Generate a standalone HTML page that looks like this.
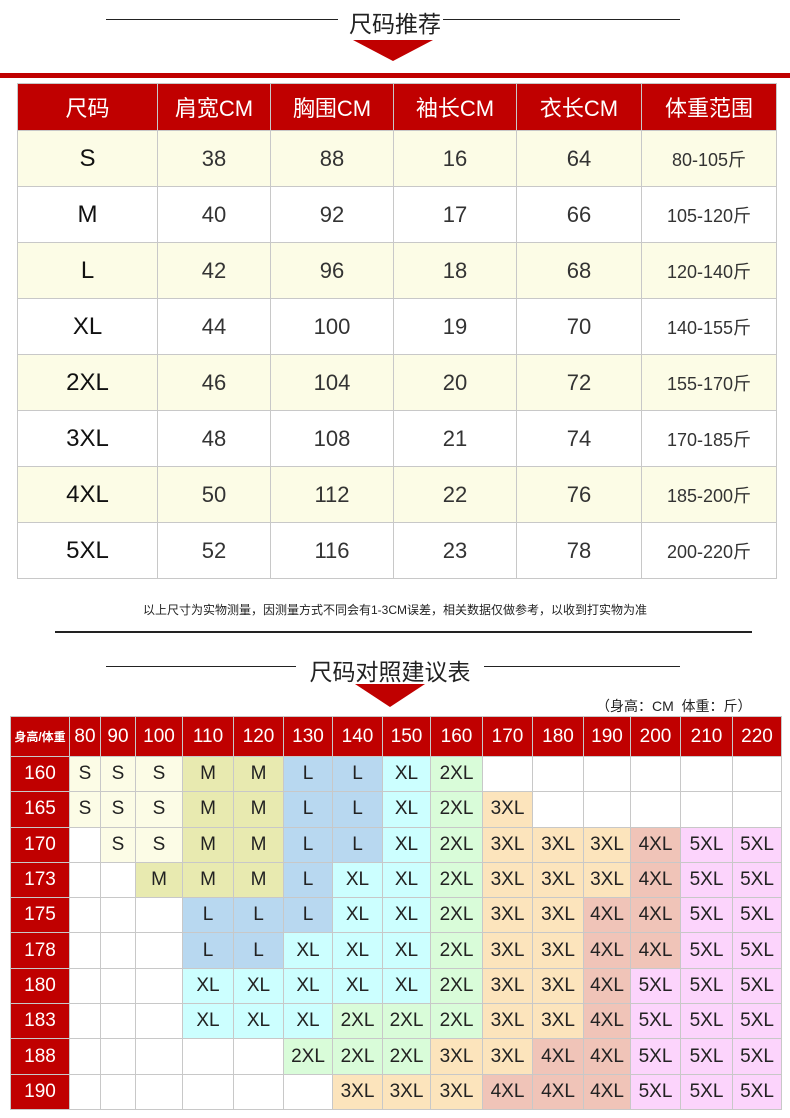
<!DOCTYPE html>
<html><head><meta charset="utf-8"><style>
body{margin:0;width:790px;height:1118px;background:#fff;position:relative;overflow:hidden;font-family:"Liberation Sans","Noto Sans CJK SC",sans-serif;color:#222}
.a{position:absolute}
.ln{position:absolute;height:1px;background:#222}
table{position:absolute;border-collapse:collapse;table-layout:fixed}
td{border:1px solid #c8c8c8;text-align:center;padding:0}
.t1 td{height:55px;font-size:22px;color:#333}
.t1 tr.h td{height:46px;background:#c00000;color:#fff;font-size:22px}
.t1 tr.c td{background:#fcfce6}
.t1 td.s{font-size:24px;color:#111}
.t1 td.w{font-size:18px}
.t2 td{height:34.3px;font-size:19px;color:#222}
.t2 tr.h td{height:39px;background:#c00000;color:#fff;font-size:19px}
.t2 td.r{background:#c00000;color:#fff;font-size:19px}
.S{background:#fcfce6}.M{background:#e8eab0}.L{background:#b8d8f0}.X{background:#ccffff}.X2{background:#d9fcd9}.X3{background:#fce4bc}.X4{background:#f0c4b8}.X5{background:#fcd4fc}
</style></head><body>
<div class="ln" style="left:106px;top:19px;width:232px"></div>
<div class="ln" style="left:443px;top:19px;width:237px"></div>
<div class="a" style="left:340px;top:5px;width:110px;text-align:center;font-size:23px;color:#222">尺码推荐</div>
<svg class="a" style="left:353px;top:40px" width="80" height="22"><polygon points="0,0 80,0 40,21" fill="#c00000"/></svg>
<div class="a" style="left:0;top:73px;width:790px;height:5px;background:#c00000"></div>
<table class="t1" style="left:17px;top:83px;width:759px">
<colgroup><col style="width:140px"><col style="width:113px"><col style="width:123px"><col style="width:123px"><col style="width:125px"><col style="width:135px"></colgroup>
<tr class="h"><td>尺码</td><td>肩宽CM</td><td>胸围CM</td><td>袖长CM</td><td>衣长CM</td><td>体重范围</td></tr>
<tr class="c"><td class="s">S</td><td>38</td><td>88</td><td>16</td><td>64</td><td class="w">80-105斤</td></tr>
<tr><td class="s">M</td><td>40</td><td>92</td><td>17</td><td>66</td><td class="w">105-120斤</td></tr>
<tr class="c"><td class="s">L</td><td>42</td><td>96</td><td>18</td><td>68</td><td class="w">120-140斤</td></tr>
<tr><td class="s">XL</td><td>44</td><td>100</td><td>19</td><td>70</td><td class="w">140-155斤</td></tr>
<tr class="c"><td class="s">2XL</td><td>46</td><td>104</td><td>20</td><td>72</td><td class="w">155-170斤</td></tr>
<tr><td class="s">3XL</td><td>48</td><td>108</td><td>21</td><td>74</td><td class="w">170-185斤</td></tr>
<tr class="c"><td class="s">4XL</td><td>50</td><td>112</td><td>22</td><td>76</td><td class="w">185-200斤</td></tr>
<tr><td class="s">5XL</td><td>52</td><td>116</td><td>23</td><td>78</td><td class="w">200-220斤</td></tr>
</table>
<div class="a" style="left:0;top:601px;width:790px;text-align:center;font-size:12px;color:#222">以上尺寸为实物测量，因测量方式不同会有1-3CM误差，相关数据仅做参考，以收到打实物为准</div>
<div class="ln" style="left:55px;top:631px;width:697px;height:2px"></div>
<div class="ln" style="left:106px;top:666px;width:190px"></div>
<div class="ln" style="left:484px;top:666px;width:196px"></div>
<div class="a" style="left:295px;top:653px;width:190px;text-align:center;font-size:23px;color:#222">尺码对照建议表</div>
<svg class="a" style="left:355px;top:684px" width="70" height="24"><polygon points="0,0 70,0 35,23" fill="#c00000"/></svg>
<div class="a" style="left:596px;top:696px;font-size:14px;color:#222">（身高：CM &nbsp;体重：斤）</div>
<table class="t2" style="left:10px;top:716px;width:771px">
<colgroup><col style="width:59px"><col style="width:31px"><col style="width:35px"><col style="width:47px"><col style="width:51px"><col style="width:50px"><col style="width:49px"><col style="width:50px"><col style="width:48px"><col style="width:52px"><col style="width:50px"><col style="width:51px"><col style="width:47px"><col style="width:50px"><col style="width:52px"><col style="width:49px"></colgroup>
<tr class="h"><td style="font-size:12px;font-weight:bold">身高/体重</td><td>80</td><td>90</td><td>100</td><td>110</td><td>120</td><td>130</td><td>140</td><td>150</td><td>160</td><td>170</td><td>180</td><td>190</td><td>200</td><td>210</td><td>220</td></tr>
<tr><td class="r">160</td><td class="S">S</td><td class="S">S</td><td class="S">S</td><td class="M">M</td><td class="M">M</td><td class="L">L</td><td class="L">L</td><td class="X">XL</td><td class="X2">2XL</td><td></td><td></td><td></td><td></td><td></td><td></td></tr>
<tr><td class="r">165</td><td class="S">S</td><td class="S">S</td><td class="S">S</td><td class="M">M</td><td class="M">M</td><td class="L">L</td><td class="L">L</td><td class="X">XL</td><td class="X2">2XL</td><td class="X3">3XL</td><td></td><td></td><td></td><td></td><td></td></tr>
<tr><td class="r">170</td><td></td><td class="S">S</td><td class="S">S</td><td class="M">M</td><td class="M">M</td><td class="L">L</td><td class="L">L</td><td class="X">XL</td><td class="X2">2XL</td><td class="X3">3XL</td><td class="X3">3XL</td><td class="X3">3XL</td><td class="X4">4XL</td><td class="X5">5XL</td><td class="X5">5XL</td></tr>
<tr><td class="r">173</td><td></td><td></td><td class="M">M</td><td class="M">M</td><td class="M">M</td><td class="L">L</td><td class="X">XL</td><td class="X">XL</td><td class="X2">2XL</td><td class="X3">3XL</td><td class="X3">3XL</td><td class="X3">3XL</td><td class="X4">4XL</td><td class="X5">5XL</td><td class="X5">5XL</td></tr>
<tr><td class="r">175</td><td></td><td></td><td></td><td class="L">L</td><td class="L">L</td><td class="L">L</td><td class="X">XL</td><td class="X">XL</td><td class="X2">2XL</td><td class="X3">3XL</td><td class="X3">3XL</td><td class="X4">4XL</td><td class="X4">4XL</td><td class="X5">5XL</td><td class="X5">5XL</td></tr>
<tr><td class="r">178</td><td></td><td></td><td></td><td class="L">L</td><td class="L">L</td><td class="X">XL</td><td class="X">XL</td><td class="X">XL</td><td class="X2">2XL</td><td class="X3">3XL</td><td class="X3">3XL</td><td class="X4">4XL</td><td class="X4">4XL</td><td class="X5">5XL</td><td class="X5">5XL</td></tr>
<tr><td class="r">180</td><td></td><td></td><td></td><td class="X">XL</td><td class="X">XL</td><td class="X">XL</td><td class="X">XL</td><td class="X">XL</td><td class="X2">2XL</td><td class="X3">3XL</td><td class="X3">3XL</td><td class="X4">4XL</td><td class="X5">5XL</td><td class="X5">5XL</td><td class="X5">5XL</td></tr>
<tr><td class="r">183</td><td></td><td></td><td></td><td class="X">XL</td><td class="X">XL</td><td class="X">XL</td><td class="X2">2XL</td><td class="X2">2XL</td><td class="X2">2XL</td><td class="X3">3XL</td><td class="X3">3XL</td><td class="X4">4XL</td><td class="X5">5XL</td><td class="X5">5XL</td><td class="X5">5XL</td></tr>
<tr><td class="r">188</td><td></td><td></td><td></td><td></td><td></td><td class="X2">2XL</td><td class="X2">2XL</td><td class="X2">2XL</td><td class="X3">3XL</td><td class="X3">3XL</td><td class="X4">4XL</td><td class="X4">4XL</td><td class="X5">5XL</td><td class="X5">5XL</td><td class="X5">5XL</td></tr>
<tr><td class="r">190</td><td></td><td></td><td></td><td></td><td></td><td></td><td class="X3">3XL</td><td class="X3">3XL</td><td class="X3">3XL</td><td class="X4">4XL</td><td class="X4">4XL</td><td class="X4">4XL</td><td class="X5">5XL</td><td class="X5">5XL</td><td class="X5">5XL</td></tr>
</table>
</body></html>
